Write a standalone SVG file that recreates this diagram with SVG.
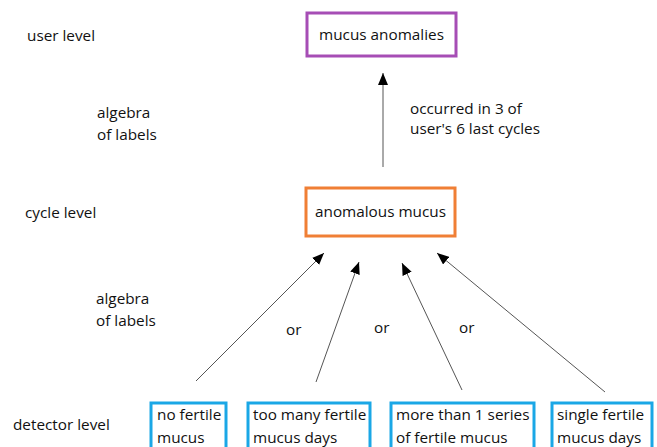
<svg xmlns="http://www.w3.org/2000/svg" width="657" height="447" viewBox="0 0 657 447">
<style>
text { font-family: "Open Sans", "Noto Sans", sans-serif; font-size: 15.3px; fill: #111; }
.box { fill: #fff; stroke-width: 3; }
.purple { stroke: #a64db5; }
.orange { stroke: #f07f35; }
.blue { stroke: #1aa7e6; }
.conn { stroke: #555; stroke-width: 1; fill: none; marker-end: url(#ah); }
</style>
<defs>
<marker id="ah" viewBox="0 0 12 10" refX="12" refY="5" markerWidth="12" markerHeight="10" markerUnits="userSpaceOnUse" orient="auto">
<path d="M0,0 L12,5 L0,10 Z" fill="#000"/>
</marker>
</defs>
<rect width="657" height="447" fill="#fff"/>
<g id="labels">
<text x="27" y="41">user level</text>
<text x="97" y="118">algebra</text>
<text x="97" y="140">of labels</text>
<text x="25" y="218">cycle level</text>
<text x="96" y="304">algebra</text>
<text x="96" y="326">of labels</text>
<text x="13" y="430">detector level</text>
<text x="410" y="114">occurred in 3 of</text>
<text x="410" y="134">user's 6 last cycles</text>
<text x="286" y="335">or</text>
<text x="374" y="333">or</text>
<text x="459" y="333">or</text>
</g>
<g id="connectors">
<line class="conn" x1="383" y1="167" x2="383" y2="73"/>
<line class="conn" x1="196" y1="381" x2="324" y2="253"/>
<line class="conn" x1="316" y1="382" x2="359" y2="262"/>
<line class="conn" x1="462" y1="390" x2="402" y2="263"/>
<line class="conn" x1="605" y1="392" x2="437" y2="253"/>
</g>
<g id="mucus-anomalies">
<rect class="box purple" x="307" y="13" width="149" height="43"/>
<text x="381.5" y="40" text-anchor="middle">mucus anomalies</text>
</g>
<g id="anomalous-mucus">
<rect class="box orange" x="306" y="188" width="149" height="48"/>
<text x="380.5" y="217" text-anchor="middle">anomalous mucus</text>
</g>
<g id="no-fertile-mucus">
<rect class="box blue" x="151" y="403" width="75" height="50"/>
<text x="157" y="420">no fertile</text>
<text x="157" y="443">mucus</text>
</g>
<g id="too-many">
<rect class="box blue" x="248" y="403" width="122" height="50"/>
<text x="253" y="420">too many fertile</text>
<text x="253" y="443">mucus days</text>
</g>
<g id="more-than-1">
<rect class="box blue" x="391" y="403" width="143" height="50"/>
<text x="396" y="420">more than 1 series</text>
<text x="396" y="443">of fertile mucus</text>
</g>
<g id="single">
<rect class="box blue" x="552" y="403" width="100" height="50"/>
<text x="557" y="420">single fertile</text>
<text x="557" y="443">mucus days</text>
</g>
</svg>
